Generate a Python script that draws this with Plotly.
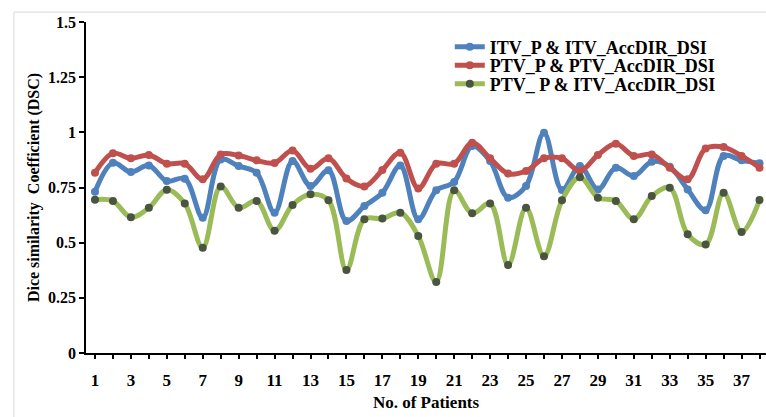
import plotly.graph_objects as go

patients = list(range(1, 39))

itv_itv = [0.731, 0.862, 0.820, 0.850, 0.779, 0.790, 0.613, 0.877, 0.847, 0.817,
           0.636, 0.870, 0.757, 0.828, 0.598, 0.666, 0.726, 0.850, 0.606, 0.737,
           0.775, 0.938, 0.870, 0.704, 0.757, 0.998, 0.739, 0.847, 0.741, 0.840,
           0.802, 0.867, 0.844, 0.741, 0.647, 0.893, 0.873, 0.860]

ptv_ptv = [0.817, 0.905, 0.882, 0.897, 0.858, 0.858, 0.787, 0.900, 0.895, 0.873,
           0.861, 0.918, 0.835, 0.882, 0.791, 0.755, 0.829, 0.908, 0.746, 0.858,
           0.858, 0.953, 0.882, 0.813, 0.825, 0.882, 0.882, 0.825, 0.897, 0.948,
           0.893, 0.900, 0.840, 0.787, 0.927, 0.933, 0.893, 0.840]

ptv_itv = [0.695, 0.689, 0.615, 0.658, 0.740, 0.677, 0.477, 0.755, 0.658, 0.689,
           0.554, 0.671, 0.719, 0.692, 0.376, 0.606, 0.609, 0.636, 0.530, 0.322,
           0.737, 0.633, 0.677, 0.399, 0.658, 0.438, 0.692, 0.797, 0.704, 0.689,
           0.606, 0.711, 0.749, 0.538, 0.492, 0.726, 0.548, 0.693]

series_names = ["ITV_P & ITV_AccDIR_DSI", "PTV_P & PTV_AccDIR_DSI", "PTV_ P & ITV_AccDIR_DSI"]

y_ticks = [0, 0.25, 0.5, 0.75, 1, 1.25, 1.5]
y_tick_text = ["0", "0.25", "0.5", "0.75", "1", "1.25", "1.5"]
x_ticks = list(range(1, 38, 2))

FONT = "Liberation Serif, Times New Roman, serif"

fig = go.Figure()

styles = [
    (itv_itv, "#4f81bd", "#4f81bd", "legend"),
    (ptv_ptv, "#c0504d", "#c0504d", "legend2"),
    (ptv_itv, "#9bbb59", "#4a5540", "legend3"),
]

for (vals, line_col, mk_col, leg), name in zip(styles, series_names):
    fig.add_trace(go.Scatter(
        x=patients, y=vals, name=name, mode="lines+markers",
        line=dict(color=line_col, width=5, shape="spline", smoothing=1),
        marker=dict(color=mk_col, size=8),
        cliponaxis=False, legend=leg,
    ))

legend_font = dict(family=FONT, size=18, color="black", weight="bold")


def legend_box(ypos):
    return dict(x=0.535, y=ypos, xanchor="left", yanchor="middle",
                bgcolor="rgba(0,0,0,0)", font=legend_font)


fig.update_layout(
    width=766, height=417,
    margin=dict(l=86, r=0, t=22, b=64),
    paper_bgcolor="white", plot_bgcolor="white",
    font=dict(family=FONT, size=16, color="black"),
    showlegend=True,
    legend=legend_box(0.9245),
    legend2=legend_box(0.8686),
    legend3=legend_box(0.8127),
    xaxis=dict(
        range=[0.5, 38.36], tickmode="array", tickvals=x_ticks,
        ticktext=[str(v) for v in x_ticks],
        showgrid=False, zeroline=False,
        showline=True, linecolor="black", linewidth=1.5,
        ticks="", ticklabelstandoff=11,
        tickfont=dict(family=FONT, size=17, weight="bold"),
        minor=dict(tickmode="array", tickvals=patients, ticks="outside",
                   ticklen=4, tickcolor="black", tickwidth=1.5),
        title=dict(text="No. of Patients", standoff=7,
                   font=dict(family=FONT, size=17, weight="bold")),
    ),
    yaxis=dict(
        range=[0, 1.5], tickmode="array", tickvals=y_ticks, ticktext=y_tick_text,
        showgrid=False, zeroline=False,
        showline=True, linecolor="black", linewidth=1.5,
        ticks="outside", ticklen=5, tickcolor="black", tickwidth=1.5,
        tickfont=dict(family=FONT, size=16, weight="bold"),
        title=dict(text="Dice similarity  Coefficient (DSC)", standoff=4,
                   font=dict(family=FONT, size=16, weight="bold")),
    ),
    shapes=[dict(
        type="rect", xref="paper", yref="paper",
        x0=-0.106, x1=1.2, y0=-0.5, y1=1.030,
        line=dict(color="#d9d9d9", width=1), layer="below",
    )],
)

fig.write_html("out.html")
